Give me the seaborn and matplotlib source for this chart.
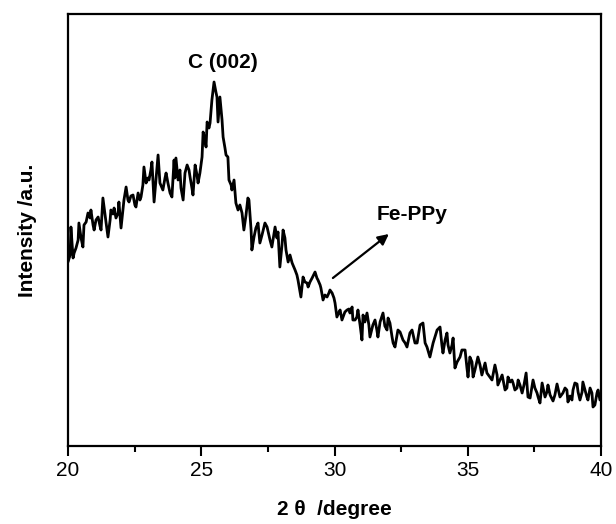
import matplotlib
matplotlib.use("Agg")
import matplotlib.pyplot as plt
import seaborn as sns
from matplotlib.ticker import MultipleLocator

two_theta = [
    20.00, 20.08, 20.11, 20.19, 20.23, 20.30, 20.38, 20.41, 20.49, 20.56, 20.60, 20.68, 20.75, 20.83,
    20.86, 20.94, 20.98, 21.05, 21.13, 21.20, 21.24, 21.31, 21.39, 21.43, 21.50, 21.58, 21.61, 21.69,
    21.73, 21.80, 21.88, 21.91, 21.99, 22.06, 22.10, 22.18, 22.25, 22.29, 22.36, 22.44, 22.51, 22.55,
    22.63, 22.70, 22.74, 22.81, 22.85, 22.93, 23.00, 23.04, 23.11, 23.15, 23.23, 23.30, 23.38, 23.45,
    23.53, 23.56, 23.64, 23.68, 23.75, 23.83, 23.90, 23.98, 24.01, 24.05, 24.13, 24.20, 24.24, 24.32,
    24.39, 24.47, 24.54, 24.58, 24.65, 24.69, 24.77, 24.84, 24.88, 24.95, 25.03, 25.07, 25.14, 25.18,
    25.22, 25.29, 25.33, 25.40, 25.48, 25.55, 25.59, 25.63, 25.70, 25.78, 25.82, 25.89, 25.93, 26.00,
    26.04, 26.12, 26.15, 26.23, 26.30, 26.38, 26.45, 26.53, 26.60, 26.68, 26.75, 26.79, 26.87, 26.90,
    26.98, 27.05, 27.13, 27.20, 27.28, 27.39, 27.47, 27.58, 27.65, 27.77, 27.84, 27.88, 27.95, 28.03,
    28.07, 28.14, 28.18, 28.26, 28.33, 28.41, 28.52, 28.59, 28.63, 28.71, 28.74, 28.82, 28.89, 28.97,
    29.01, 29.08, 29.16, 29.27, 29.34, 29.38, 29.46, 29.49, 29.57, 29.64, 29.72, 29.79, 29.83, 29.91,
    29.98, 30.02, 30.09, 30.17, 30.21, 30.28, 30.32, 30.39, 30.47, 30.54, 30.58, 30.66, 30.69, 30.77,
    30.84, 30.88, 30.96, 31.03, 31.07, 31.14, 31.22, 31.29, 31.33, 31.41, 31.44, 31.52, 31.59, 31.63,
    31.71, 31.82, 31.89, 31.97, 32.01, 32.08, 32.16, 32.20, 32.27, 32.35, 32.38, 32.46, 32.57, 32.65,
    32.72, 32.83, 32.91, 33.02, 33.10, 33.21, 33.32, 33.40, 33.47, 33.58, 33.70, 33.77, 33.85, 33.96,
    34.03, 34.07, 34.15, 34.22, 34.26, 34.33, 34.41, 34.45, 34.52, 34.60, 34.71, 34.78, 34.82, 34.90,
    34.97, 35.01, 35.08, 35.16, 35.20, 35.27, 35.38, 35.46, 35.53, 35.65, 35.72, 35.83, 35.91, 36.02,
    36.10, 36.13, 36.21, 36.29, 36.40, 36.47, 36.51, 36.59, 36.66, 36.70, 36.77, 36.85, 36.89, 36.96,
    37.04, 37.11, 37.19, 37.26, 37.34, 37.45, 37.52, 37.60, 37.64, 37.71, 37.79, 37.90, 37.97, 38.01,
    38.09, 38.20, 38.27, 38.35, 38.42, 38.46, 38.57, 38.65, 38.72, 38.76, 38.84, 38.91, 38.95, 39.02,
    39.10, 39.14, 39.21, 39.29, 39.32, 39.40, 39.47, 39.51, 39.59, 39.66, 39.70, 39.77, 39.85, 39.89,
    39.96,
]

intensity = [
    184, 191, 219, 188, 193, 198, 206, 223, 208, 199, 221, 224, 233, 228,
    236, 221, 216, 226, 229, 220, 216, 248, 231, 223, 209, 226, 236, 232,
    238, 228, 233, 244, 218, 236, 246, 259, 246, 244, 250, 251, 241, 239,
    253, 246, 249, 261, 279, 263, 268, 266, 276, 284, 244, 266, 291, 263,
    258, 256, 268, 273, 263, 253, 249, 286, 268, 288, 266, 276, 258, 246,
    273, 281, 276, 269, 258, 251, 281, 271, 263, 273, 289, 314, 306, 299,
    324, 318, 323, 346, 364, 354, 349, 324, 349, 326, 309, 298, 291, 289,
    266, 261, 256, 266, 243, 236, 241, 233, 216, 231, 248, 246, 216, 196,
    209, 218, 223, 203, 211, 223, 219, 206, 199, 219, 208, 214, 179, 201,
    216, 208, 196, 184, 191, 183, 176, 171, 166, 154, 149, 169, 164, 163,
    159, 164, 168, 174, 168, 166, 161, 158, 146, 151, 149, 153, 156, 153,
    148, 143, 129, 134, 136, 126, 129, 134, 136, 137, 133, 139, 126, 126,
    129, 136, 121, 106, 131, 124, 133, 121, 109, 118, 121, 126, 116, 109,
    124, 133, 120, 116, 128, 123, 109, 103, 99, 111, 116, 114, 106, 103,
    99, 113, 116, 103, 103, 121, 123, 103, 99, 89, 103, 109, 116, 119,
    101, 93, 106, 113, 101, 93, 101, 108, 78, 84, 89, 96, 96, 96,
    78, 69, 89, 84, 69, 76, 89, 81, 71, 83, 73, 69, 66, 81,
    71, 61, 66, 71, 56, 58, 69, 64, 66, 63, 56, 58, 66, 61,
    53, 61, 73, 49, 48, 66, 58, 53, 49, 43, 63, 49, 54, 61,
    51, 45, 51, 62, 54, 49, 53, 58, 56, 44, 50, 46, 56, 63,
    62, 54, 46, 54, 64, 56, 49, 46, 58, 53, 39, 41, 53, 56,
    46,
]

x_ticks = [20, 25, 30, 35, 40]
x_tick_labels = ["20", "25", "30", "35", "40"]
peak_label = "C (002)"
sample_label = "Fe-PPy"

sns.set_theme(style="white")
plt.rcParams["font.family"] = ["Liberation Sans", "DejaVu Sans"]
plt.rcParams["text.color"] = "black"
plt.rcParams["axes.labelcolor"] = "black"
plt.rcParams["xtick.color"] = "black"
plt.rcParams["ytick.color"] = "black"

fig = plt.figure(figsize=(6.16, 5.24), dpi=100)
ax = fig.add_axes([68 / 616, 78 / 524, 533 / 616, 432 / 524])

sns.lineplot(x=two_theta, y=intensity, ax=ax, color="black", linewidth=2.0,
             estimator=None, sort=False)

ax.set_xlim(20, 40)
ax.set_ylim(0, 432)
ax.set_xticks(x_ticks)
ax.set_xticklabels(x_tick_labels, fontsize=15, color="black")
ax.xaxis.set_minor_locator(MultipleLocator(2.5))
ax.set_yticks([])
ax.tick_params(axis="x", which="major", direction="out", length=7, width=1.5,
               color="black", labelcolor="black", bottom=True, top=False, pad=4)
ax.tick_params(axis="x", which="minor", direction="out", length=4, width=1.5,
               color="black", bottom=True, top=False)
for s in ax.spines.values():
    s.set_visible(True)
    s.set_color("black")
    s.set_linewidth(1.6)

ax.set_xlabel("2 θ  /degree", fontsize=15, fontweight="bold", labelpad=14,
              color="black")
ax.set_ylabel("Intensity /a.u.", fontsize=15, fontweight="bold", labelpad=22,
              color="black")

ax.text(25.82, 383, peak_label, ha="center", va="center", fontsize=15,
        fontweight="bold", color="black")
ax.text(32.91, 231, sample_label, ha="center", va="center", fontsize=15,
        fontweight="bold", color="black")
ax.annotate("", xy=(32.04, 212), xytext=(29.94, 168),
            arrowprops=dict(arrowstyle="-|>", color="black", lw=1.6,
                            mutation_scale=16, shrinkA=0, shrinkB=0))

fig.savefig("out.png", dpi=100)
